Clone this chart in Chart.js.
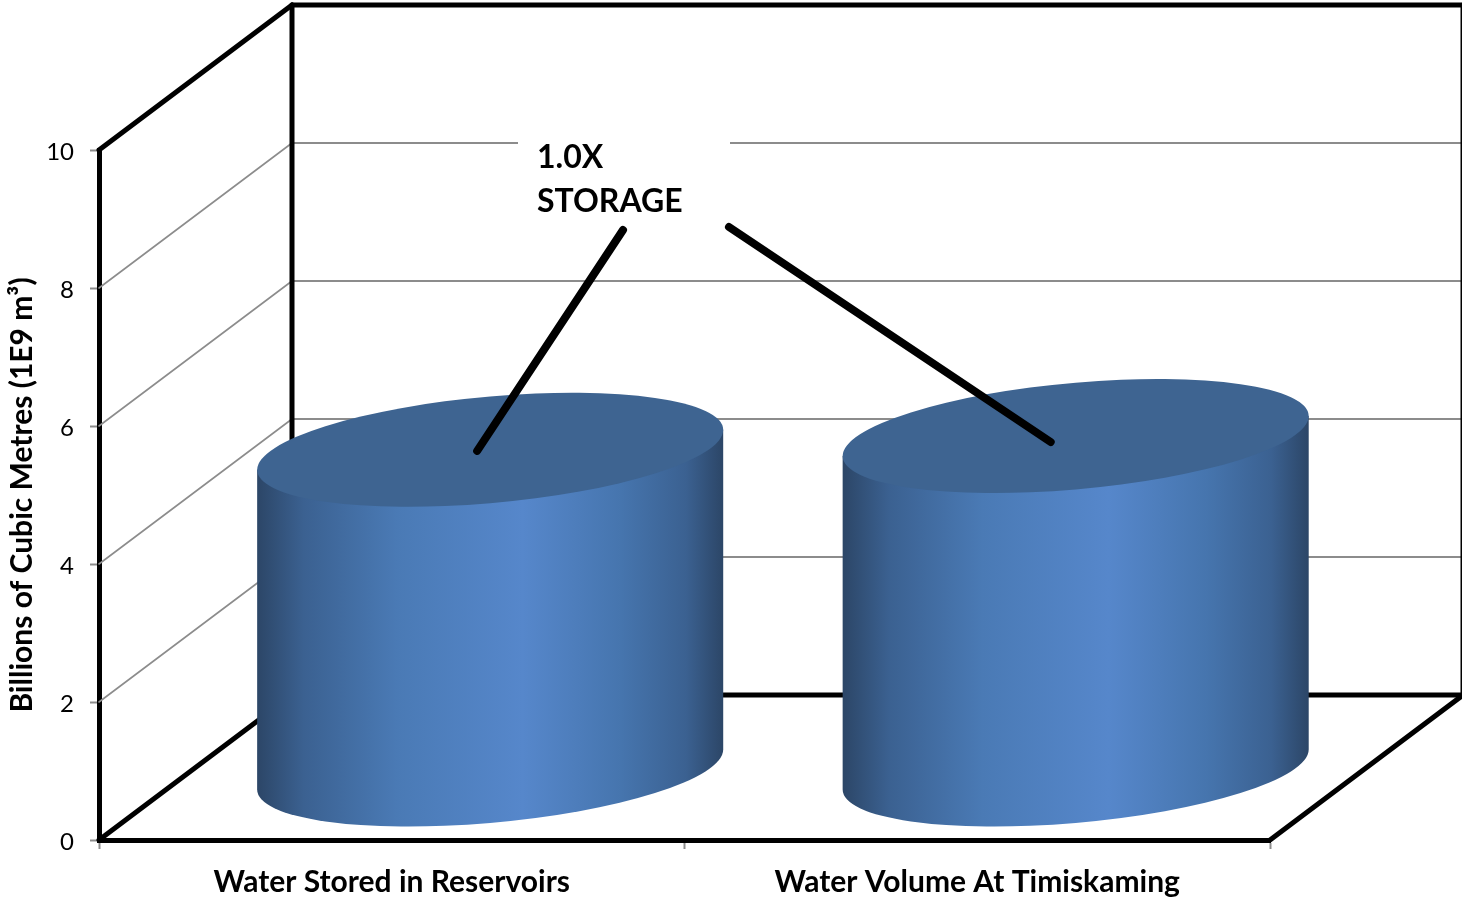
<!DOCTYPE html>
<html>
<head>
<meta charset="utf-8">
<title>Water storage</title>
<style>
  html, body { margin: 0; padding: 0; background: #fff; }
  canvas { display: block; }
</style>
<script src="https://cdn.jsdelivr.net/npm/chart.js@4"></script>
</head>
<body>
<canvas id="storageChart" width="1462" height="897"></canvas>
<script>
const categories = ['Water Stored in Reservoirs', 'Water Volume At Timiskaming'];
const volumes = [4.64, 4.84];
const axisTitle = 'Billions of Cubic Metres (1E9 m³)';
const calloutText = ['1.0X', 'STORAGE'];

const FONT = 'Lato, sans-serif';
const DEPTH_X = 193;     // how far the back wall sits from the front axes
const DEPTH_Y = 145;
const GRID_GREY = '#8c8c8c';
const WALL = 5;

// walls, floor and gridlines of the fake 3D box, drawn behind the bars
const boxPlugin = {
  id: 'box',
  beforeDatasetsDraw(chart) {
    const { ctx, chartArea: a, scales: { y } } = chart;
    const line = (x1, y1, x2, y2, color, width) => {
      ctx.strokeStyle = color;
      ctx.lineWidth = width;
      ctx.beginPath();
      ctx.moveTo(x1, y1);
      ctx.lineTo(x2, y2);
      ctx.stroke();
    };
    ctx.save();
    ctx.lineCap = 'round';
    y.ticks.forEach(t => {
      if (t.value === 0 || t.value === 10) return;
      const py = y.getPixelForValue(t.value);
      line(a.left, py, a.left + DEPTH_X, py - DEPTH_Y, GRID_GREY, 1.6);
      line(a.left + DEPTH_X, py - DEPTH_Y, a.right + DEPTH_X, py - DEPTH_Y, GRID_GREY, 2);
    });
    const top = y.getPixelForValue(10), bottom = y.getPixelForValue(0);
    line(a.left, top, a.left + DEPTH_X, top - DEPTH_Y, '#000', WALL);
    line(a.left + DEPTH_X, top - DEPTH_Y, a.right + DEPTH_X, top - DEPTH_Y, '#000', WALL);
    line(a.left + DEPTH_X, top - DEPTH_Y, a.left + DEPTH_X, bottom - DEPTH_Y, '#000', WALL);
    line(a.right + DEPTH_X, top - DEPTH_Y, a.right + DEPTH_X, bottom - DEPTH_Y, '#000', WALL);
    line(a.left, bottom, a.left + DEPTH_X, bottom - DEPTH_Y, '#000', WALL);
    line(a.left + DEPTH_X, bottom - DEPTH_Y, a.right + DEPTH_X, bottom - DEPTH_Y, '#000', WALL);
    line(a.right, bottom, a.right + DEPTH_X, bottom - DEPTH_Y, '#000', WALL);

    // white label box knocks out the top gridline
    ctx.fillStyle = '#fff';
    ctx.fillRect(518, 130, 212, 96);
    ctx.restore();
  }
};

// each bar element is redrawn as a sheared cylinder sitting mid-way on the floor
const cylinderPlugin = {
  id: 'cylinders',
  afterDatasetsDraw(chart) {
    const { ctx } = chart;
    const slant = -0.0858, minor = 53.4;
    chart.getDatasetMeta(0).data.forEach(bar => {
      const rx = bar.width / 2;
      const h = bar.base - bar.y;
      ctx.save();
      ctx.translate(bar.x + DEPTH_X * 0.51, bar.base - 70);
      ctx.transform(1, slant, 0, 1, 0, 0);

      const side = ctx.createLinearGradient(-rx, 0, rx, 0);
      side.addColorStop(0, '#2c4667');
      side.addColorStop(0.1, '#3b6191');
      side.addColorStop(0.3, '#4a7ab5');
      side.addColorStop(0.57, '#5687cb');
      side.addColorStop(0.78, '#4675ae');
      side.addColorStop(0.92, '#3b6191');
      side.addColorStop(1, '#2c4667');
      ctx.fillStyle = side;
      ctx.beginPath();
      ctx.moveTo(-rx, -h);
      ctx.lineTo(-rx, 0);
      ctx.ellipse(0, 0, rx, minor, 0, Math.PI, 0, true);
      ctx.lineTo(rx, -h);
      ctx.closePath();
      ctx.fill();

      ctx.fillStyle = '#3e6491';
      ctx.beginPath();
      ctx.ellipse(0, -h, rx, minor, 0, 0, Math.PI * 2);
      ctx.fill();
      ctx.restore();
    });
  }
};

// callout text and the two leader lines running onto the cylinder tops
const calloutPlugin = {
  id: 'callout',
  afterDraw(chart) {
    const { ctx } = chart;
    const bars = chart.getDatasetMeta(0).data;
    const centre = bar => ({ x: bar.x + DEPTH_X * 0.51, y: bar.y - 70 });
    const c1 = centre(bars[0]), c2 = centre(bars[1]);
    ctx.save();
    ctx.strokeStyle = '#000';
    ctx.lineWidth = 8;
    ctx.lineCap = 'round';
    ctx.beginPath();
    ctx.moveTo(623, 230);
    ctx.lineTo(c1.x - 13, c1.y + 1);
    ctx.moveTo(729, 227);
    ctx.lineTo(c2.x - 25, c2.y + 6);
    ctx.stroke();

    ctx.fillStyle = '#000';
    ctx.font = 'bold 32px ' + FONT;
    ctx.textBaseline = 'middle';
    ctx.fillText(calloutText[0], 537, 158);
    ctx.fillText(calloutText[1], 537, 202);
    ctx.restore();
  }
};

new Chart(document.getElementById('storageChart'), {
  type: 'bar',
  data: {
    labels: categories,
    datasets: [{
      data: volumes,
      backgroundColor: 'transparent',
      barPercentage: 0.796,
      categoryPercentage: 1
    }]
  },
  plugins: [boxPlugin, cylinderPlugin, calloutPlugin],
  options: {
    responsive: false,
    animation: false,
    layout: { padding: { top: 150, right: 192, left: 0, bottom: 0 } },
    plugins: { legend: { display: false }, tooltip: { enabled: false } },
    scales: {
      x: {
        afterFit: s => { s.height = 57; },
        border: { color: '#000', width: WALL },
        grid: { drawOnChartArea: false, tickColor: GRID_GREY, tickWidth: 2, tickLength: 9 },
        ticks: {
          color: '#000',
          padding: 15,
          maxRotation: 0,
          autoSkip: false,
          font: { family: FONT, size: 30, weight: 'bold' }
        }
      },
      y: {
        min: 0,
        max: 10,
        afterFit: s => { s.width = 99; },
        border: { color: '#000', width: WALL },
        grid: { drawOnChartArea: false, tickColor: GRID_GREY, tickWidth: 2, tickLength: 9 },
        ticks: {
          stepSize: 2,
          color: '#000',
          padding: 16,
          labelOffset: 2,
          font: { family: FONT, size: 24 }
        },
        title: {
          display: true,
          text: axisTitle,
          color: '#000',
          padding: { top: 4, bottom: 0 },
          font: { family: FONT, size: 30, weight: 'bold' }
        }
      }
    }
  }
});
</script>
</body>
</html>
